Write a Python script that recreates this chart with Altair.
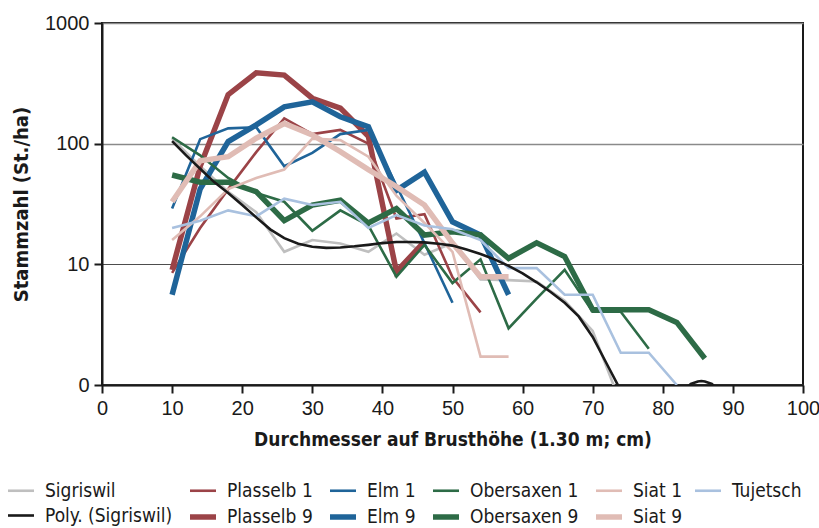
import altair as alt
import pandas as pd

# Diameter classes (cm)
x_vals = [10, 14, 18, 22, 26, 30, 34, 38, 42, 46, 50, 54, 58, 62, 66, 70, 74, 78, 82, 86]

sigriswil = [110, 65, 40, 27, 12.7, 15.9, 14.9, 12.7, 18, 12, 15, 7.5, 7.4, 7.2, 5, 2.8, 0.7]
plasselb1 = [8.5, 20, 42, 85, 162, 120, 130, 100, 24, 26, 7.8, 4.0]
plasselb9 = [9, 65, 255, 387, 370, 238, 197, 115, 8.7, 15.4]
elm1 = [29, 109, 134, 137, 65, 84, 120, 130, 45, 15, 4.8]
elm9 = [5.6, 42, 104, 143, 202, 222, 167, 138, 41, 58, 22.5, 17.5, 5.6]
obersaxen1 = [113, 80, 52, 39, 33, 19, 28, 21, 7.9, 14.5, 7, 11, 2.95, 5.2, 9, 4.05, 4.05, 2.0]
obersaxen9 = [55, 48, 48, 40, 23, 31, 34, 22, 29, 17.5, 18.6, 17.5, 11.2, 15.1, 11.6, 4.2, 4.2, 4.2, 3.3, 1.66]
siat1 = [15.9, 25, 42, 52, 61, 110, 107, 78, 37, 22, 12.7, 1.72, 1.72]
siat9 = [33, 72, 78, 111, 147, 118, 86, 61, 44, 31, 15, 7.9, 7.9]
tujetsch = [20, 23, 28, 25, 35, 31, 33, 20, 25.6, 21, 19.5, 15.9, 9.3, 9.3, 5.6, 5.6, 1.85, 1.85, 1.0]

# Polynomial trend line
poly_x = [10, 12, 14, 16, 18, 20, 22, 24, 26, 28, 30, 32, 34, 36, 38, 40, 42, 44, 46, 48,
          50, 52, 54, 56, 58, 60, 62, 64, 66, 68, 70, 72, 74]
poly_y = [105, 80, 62, 48, 39, 31, 24.5, 19.5, 16.5, 14.8, 14, 13.7, 13.8, 14.1, 14.5, 15, 15.3, 15.3, 15.2, 14.8,
          14.3, 13.3, 12.2, 11, 9.7, 8.4, 7.1, 5.9, 4.8, 3.7, 2.5, 1.5, 0.9]
poly2_x = [83, 84, 85, 85.5, 86, 87, 88]
poly2_y = [0.9, 1.02, 1.07, 1.08, 1.07, 1.02, 0.9]

order = ["Sigriswil", "Plasselb 1", "Elm 1", "Obersaxen 1", "Siat 1", "Tujetsch",
         "Poly. (Sigriswil)", "Plasselb 9", "Elm 9", "Obersaxen 9", "Siat 9"]
colors = ["#BFBFBF", "#9B4347", "#1F6499", "#2D6B46", "#E0BCB5", "#A9C1DF",
          "#1A1A1A", "#9B4347", "#1F6499", "#2D6B46", "#E0BCB5"]
widths = [2.6, 2.6, 2.6, 2.6, 2.6, 2.6, 2.6, 5.5, 5.5, 5.5, 5.5]

series = {
    "Sigriswil": sigriswil, "Plasselb 1": plasselb1, "Plasselb 9": plasselb9,
    "Elm 1": elm1, "Elm 9": elm9, "Obersaxen 1": obersaxen1, "Obersaxen 9": obersaxen9,
    "Siat 1": siat1, "Siat 9": siat9, "Tujetsch": tujetsch,
}
rows = []
for name, vals in series.items():
    for xv, yv in zip(x_vals, vals):
        rows.append({"x": xv, "y": yv, "series": name, "seg": name})
for xv, yv in zip(poly_x, poly_y):
    rows.append({"x": xv, "y": yv, "series": "Poly. (Sigriswil)", "seg": "poly_a"})
for xv, yv in zip(poly2_x, poly2_y):
    rows.append({"x": xv, "y": yv, "series": "Poly. (Sigriswil)", "seg": "poly_b"})
df = pd.DataFrame(rows)

FONT_N = "Liberation Sans Narrow, DejaVu Sans Condensed, sans-serif"
FONT = "Liberation Sans, sans-serif"

legend = alt.Legend(
    orient="none", legendX=-97, legendY=453, columns=6, direction="horizontal", title=None,
    labelFont=FONT_N, labelFontSize=19, labelColor="#1a1a1a",
    symbolType="stroke", symbolSize=676, labelOffset=8,
    columnPadding=6, rowPadding=0, labelLimit=300,
)

chart = alt.Chart(df).mark_line(clip=True, strokeJoin="miter").encode(
    x=alt.X("x:Q", scale=alt.Scale(domain=[0, 100], nice=False),
            axis=alt.Axis(values=list(range(0, 101, 10)), title="Durchmesser auf Brusthöhe (1.30 m; cm)",
                          grid=False, labelFlush=False)),
    y=alt.Y("y:Q", scale=alt.Scale(type="log", domain=[1, 1000], nice=False),
            axis=alt.Axis(values=[1, 10, 100, 1000], title="Stammzahl (St./ha)",
                          labelExpr="datum.value == 1 ? '0' : format(datum.value, 'd')",
                          grid=True,
                          gridColor={"condition": {"test": "datum.value === 10", "value": "#4d4d4d"},
                                     "value": "#8a8a8a"},
                          gridWidth={"condition": {"test": "datum.value === 10", "value": 1.2},
                                     "value": 1.6},
                          titleFontSize=20)),
    color=alt.Color("series:N", scale=alt.Scale(domain=order, range=colors), sort=order, legend=legend),
    strokeWidth=alt.StrokeWidth("series:N", scale=alt.Scale(type="ordinal", domain=order, range=widths),
                                sort=order, legend=legend),
    detail="seg:N",
).properties(
    width=701, height=362,
    autosize=alt.AutoSizeParams(type="none"),
    padding={"left": 102, "top": 23, "right": 16, "bottom": 143},
).configure_view(
    stroke="#1a1a1a", strokeWidth=2
).configure_axis(
    domainColor="#1a1a1a", domainWidth=2, tickColor="#1a1a1a", tickSize=8, tickWidth=2,
    labelFont=FONT, labelFontSize=20, labelColor="#1a1a1a",
    titleFont=FONT_N, titleFontSize=19, titleFontWeight="bold", titleColor="#1a1a1a",
).configure_axisX(
    labelPadding=5, titlePadding=12
).configure_axisY(
    labelPadding=5, titlePadding=13
)

chart.save("out.html", embed_options={"renderer": "svg", "actions": False})
